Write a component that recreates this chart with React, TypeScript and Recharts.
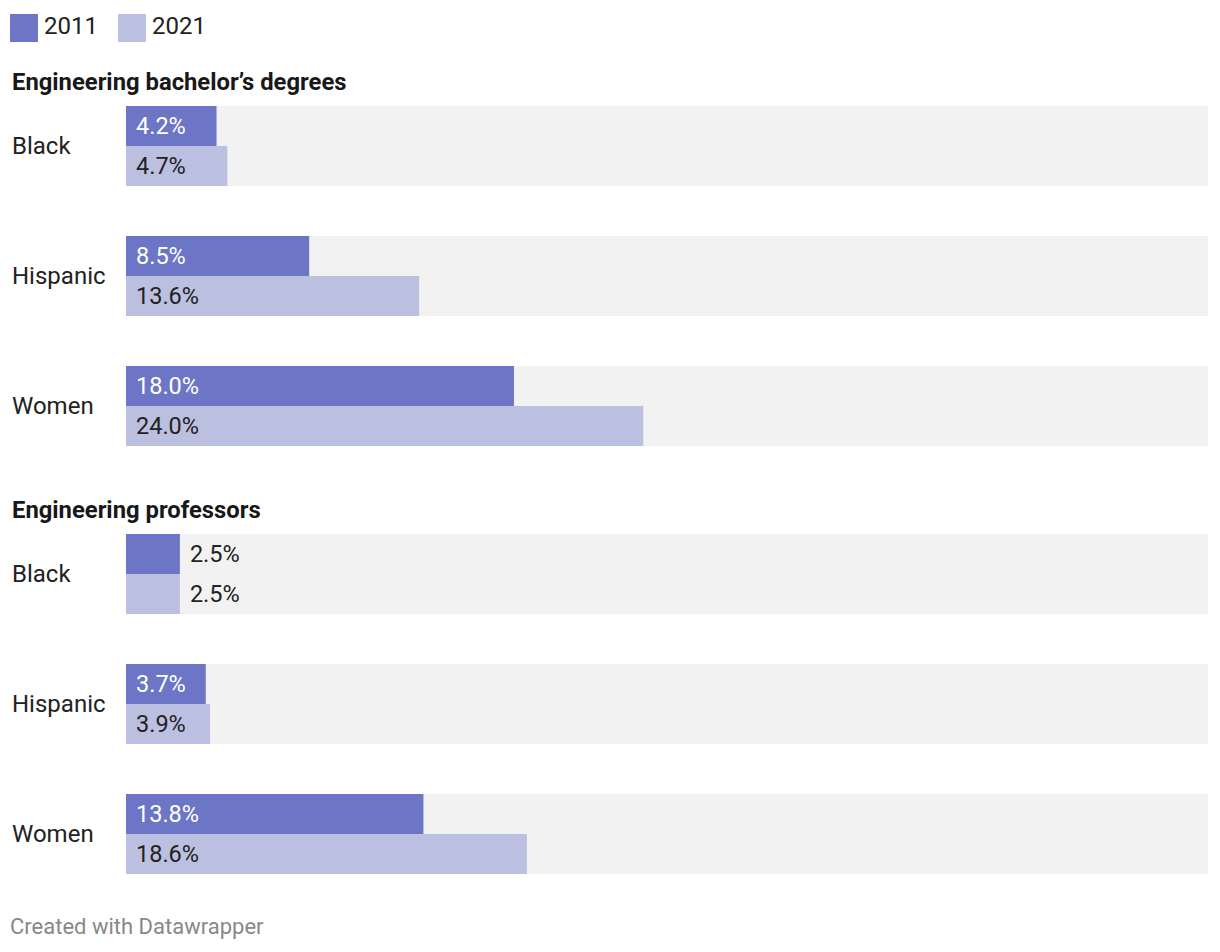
import { BarChart, Bar, XAxis, YAxis, LabelList } from 'recharts';

// Datawrapper-like palette
const C2011 = '#6c75c6';
const C2021 = '#bcc0e0';
const TRACK = '#f2f2f2';
const INK = '#222222';
const FONT = 'Roboto, sans-serif';

const categories = ['Black', 'Hispanic', 'Women'];
const degrees2011 = [4.2, 8.5, 18.0];
const degrees2021 = [4.7, 13.6, 24.0];
const professors2011 = [2.5, 3.7, 13.8];
const professors2021 = [2.5, 3.9, 18.6];
const years = ['2011', '2021'];

const toRows = (a: number[], b: number[]) =>
  categories.map((name, i) => ({ name, y2011: a[i], y2021: b[i] }));

const CategoryTick = (props: any) => {
  const { y, payload } = props;
  return (
    <text x={12} y={y} dy="0.35em" fontFamily={FONT} fontSize={24} fill={INK}>
      {payload.value}
    </text>
  );
};

const makeLabel = (inside: string) => (props: any) => {
  const vb = props.viewBox || {};
  const x = props.x ?? vb.x;
  const y = props.y ?? vb.y;
  const width = props.width ?? vb.width;
  const height = props.height ?? vb.height;
  const text = `${Number(props.value).toFixed(1)}%`;
  const fits = width > 70;
  return (
    <text
      x={fits ? x + 10 : x + width + 10}
      y={y + height / 2}
      dy="0.35em"
      fontFamily={FONT}
      fontSize={23.5}
      fill={fits ? inside : INK}
    >
      {text}
    </text>
  );
};

function Group({ data, top }: { data: any[]; top: number }) {
  return (
    <div style={{ position: 'absolute', left: 0, top }}>
      <BarChart
        width={1220}
        height={390}
        data={data}
        layout="vertical"
        margin={{ top: 0, right: 12, bottom: 0, left: 0 }}
        barCategoryGap={25}
        barGap={0}
      >
        <XAxis type="number" domain={[0, 50.2]} hide />
        <YAxis
          type="category"
          dataKey="name"
          width={126}
          axisLine={false}
          tickLine={false}
          tick={CategoryTick}
        />
        <Bar dataKey="y2011" fill={C2011} barSize={40} background={{ fill: TRACK }} isAnimationActive={false}>
          <LabelList dataKey="y2011" content={makeLabel('#ffffff')} />
        </Bar>
        <Bar dataKey="y2021" fill={C2021} barSize={40} background={{ fill: TRACK }} isAnimationActive={false}>
          <LabelList dataKey="y2021" content={makeLabel(INK)} />
        </Bar>
      </BarChart>
    </div>
  );
}

export default function App() {
  return (
    <div style={{ position: 'absolute', left: 0, top: 0, width: 1220, height: 952, background: '#fff' }}>
      <Group data={toRows(degrees2011, degrees2021)} top={81} />
      <Group data={toRows(professors2011, professors2021)} top={509} />
      <svg width={1220} height={952} style={{ position: 'absolute', left: 0, top: 0, pointerEvents: 'none' }}>
        <rect x={10} y={14} width={28} height={28} fill={C2011} />
        <text x={44} y={26} dy="0.35em" fontFamily={FONT} fontSize={24} fill={INK}>{years[0]}</text>
        <rect x={118} y={14} width={28} height={28} fill={C2021} />
        <text x={152} y={26} dy="0.35em" fontFamily={FONT} fontSize={24} fill={INK}>{years[1]}</text>
        <text x={12} y={90} fontFamily={FONT} fontSize={23.8} fontWeight={700} fill="#181818">
          Engineering bachelor’s degrees
        </text>
        <text x={12} y={518} fontFamily={FONT} fontSize={23.8} fontWeight={700} fill="#181818">
          Engineering professors
        </text>
        <text x={10} y={934} fontFamily={FONT} fontSize={22} fill="#888888">
          Created with Datawrapper
        </text>
      </svg>
    </div>
  );
}
